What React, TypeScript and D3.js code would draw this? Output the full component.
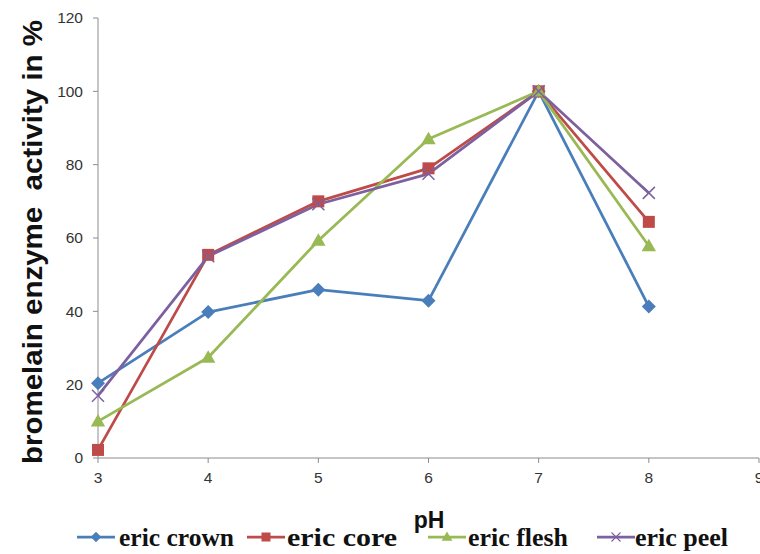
import React from "react";
import * as d3 from "d3";

const phValues = [3, 4, 5, 6, 7, 8];
const xTicks = [3, 4, 5, 6, 7, 8, 9];
const yTicks = [0, 20, 40, 60, 80, 100, 120];
const crown = [20.4, 39.8, 45.9, 42.9, 100, 41.3];
const core = [2.2, 55.4, 70, 79, 100, 64.4];
const flesh = [10, 27.4, 59.3, 87, 100, 57.8];
const peel = [17, 55, 69.2, 77.5, 100, 72.3];
const seriesNames = ["eric crown", "eric core", "eric flesh", "eric peel"];
const seriesColors = ["#4A7EBB", "#BE4B48", "#98B954", "#7D60A0"];
const seriesMarkers = ["diamond", "square", "triangle", "x"];

const W = 760;
const H = 554;

function Marker({ type, x, y, color }: { type: string; x: number; y: number; color: string }) {
  if (type === "diamond") {
    const r = 7;
    return (
      <path
        d={`M${x},${y - r}L${x + r},${y}L${x},${y + r}L${x - r},${y}Z`}
        fill={color}
      />
    );
  }
  if (type === "square") {
    const s = 12;
    return <rect x={x - s / 2} y={y - s / 2} width={s} height={s} fill={color} />;
  }
  if (type === "triangle") {
    const p = d3.symbol(d3.symbolTriangle, 90)();
    return <path d={p || ""} transform={`translate(${x},${y + 1})`} fill={color} />;
  }
  const r = 6;
  return (
    <g stroke={color} strokeWidth={1.5}>
      <line x1={x - r} y1={y - r} x2={x + r} y2={y + r} />
      <line x1={x - r} y1={y + r} x2={x + r} y2={y - r} />
    </g>
  );
}

export default function App() {
  const x = d3.scaleLinear().domain([3, 9]).range([98, 759]);
  const y = d3.scaleLinear().domain([0, 120]).range([458, 18]);
  const data = [crown, core, flesh, peel];
  const line = d3
    .line<number>()
    .x((_, i) => x(phValues[i]))
    .y((d) => y(d));

  const axisColor = "#8c8c8c";
  const tickFont = "'Liberation Sans', Arial, sans-serif";

  const legendItems = [
    { lineX: 77, textX: 119 },
    { lineX: 247, textX: 287 },
    { lineX: 428, textX: 468 },
    { lineX: 597, textX: 635 },
  ];
  const legendWidths = [115, 110, 100, 93];

  return (
    <svg
      width={W}
      height={H}
      style={{ position: "fixed", left: 0, top: 0, background: "#fff" }}
    >
      <rect width={W} height={H} fill="#fff" />
      {/* y axis */}
      <line x1={98} y1={y(120)} x2={98} y2={y(0)} stroke={axisColor} strokeWidth={1} />
      {yTicks.map((t) => (
        <g key={t}>
          <line x1={93} x2={98} y1={y(t)} y2={y(t)} stroke={axisColor} />
          <text
            x={83}
            y={y(t)}
            dy="0.35em"
            textAnchor="end"
            fontFamily={tickFont}
            fontSize={15.5}
            fill="#333"
          >
            {t}
          </text>
        </g>
      ))}
      {/* x axis */}
      <line x1={98} y1={y(0)} x2={x(9)} y2={y(0)} stroke={axisColor} />
      {xTicks.map((t) => (
        <g key={t}>
          <line x1={x(t)} x2={x(t)} y1={y(0)} y2={y(0) + 5} stroke={axisColor} />
          <text
            x={x(t)}
            y={483}
            textAnchor="middle"
            fontFamily={tickFont}
            fontSize={15.5}
            fill="#333"
          >
            {t}
          </text>
        </g>
      ))}
      {/* y title */}
      <text
        transform={`translate(42,${242}) rotate(-90)`}
        textAnchor="middle"
        fontFamily="'Liberation Sans', Arial, sans-serif"
        fontWeight="bold"
        fontSize={27}
        textLength={444}
        lengthAdjust="spacingAndGlyphs"
        fill="#111"
        style={{ whiteSpace: "pre" }}
      >
        {"bromelain enzyme  activity in %"}
      </text>
      {/* x title */}
      <text
        x={429}
        y={528}
        textAnchor="middle"
        fontFamily="'Liberation Sans', Arial, sans-serif"
        fontWeight="bold"
        fontSize={23}
        fill="#111"
      >
        pH
      </text>
      {/* series */}
      {data.map((vals, si) => (
        <path
          key={"l" + si}
          d={line(vals) || ""}
          fill="none"
          stroke={seriesColors[si]}
          strokeWidth={2.75}
          strokeLinejoin="round"
        />
      ))}
      {data.map((vals, si) =>
        vals.map((v, i) => (
          <Marker
            key={`m${si}-${i}`}
            type={seriesMarkers[si]}
            x={x(phValues[i])}
            y={y(v)}
            color={seriesColors[si]}
          />
        ))
      )}
      {/* legend */}
      {seriesNames.map((name, si) => {
        const it = legendItems[si];
        const ly = 537;
        return (
          <g key={name}>
            <line
              x1={it.lineX}
              x2={it.lineX + 38}
              y1={ly}
              y2={ly}
              stroke={seriesColors[si]}
              strokeWidth={2.75}
            />
            <g transform={`translate(${it.lineX + 19},${ly}) scale(0.75)`}>
              <Marker type={seriesMarkers[si]} x={0} y={0} color={seriesColors[si]} />
            </g>
            <text
              x={it.textX}
              y={ly}
              dy="0.34em"
              fontFamily="'Liberation Serif', 'Times New Roman', serif"
              fontWeight="bold"
              fontSize={25}
              textLength={legendWidths[si]}
              lengthAdjust="spacingAndGlyphs"
              fill="#111"
            >
              {name}
            </text>
          </g>
        );
      })}
    </svg>
  );
}
